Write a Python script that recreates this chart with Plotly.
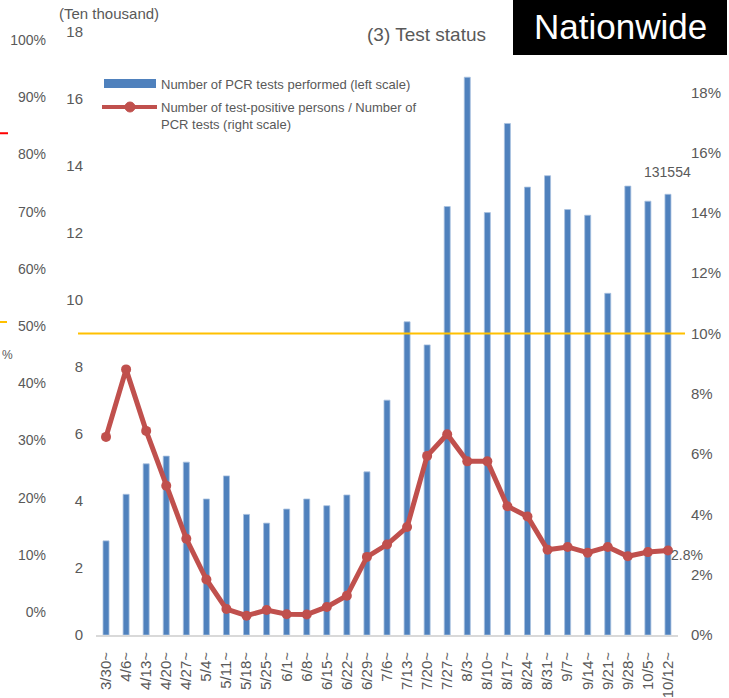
import plotly.graph_objects as go

# ---------------- data ----------------
weeks = ["3/30~", "4/6~", "4/13~", "4/20~", "4/27~", "5/4~", "5/11~", "5/18~", "5/25~",
         "6/1~", "6/8~", "6/15~", "6/22~", "6/29~", "7/6~", "7/13~", "7/20~", "7/27~",
         "8/3~", "8/10~", "8/17~", "8/24~", "8/31~", "9/7~", "9/14~", "9/21~", "9/28~",
         "10/5~", "10/12~"]
# number of PCR tests performed (ten thousand)
tests = [2.81, 4.20, 5.11, 5.34, 5.16, 4.06, 4.75, 3.60, 3.34, 3.76, 4.06, 3.86, 4.18,
         4.87, 7.01, 9.35, 8.66, 12.79, 16.65, 12.61, 15.27, 13.37, 13.71, 12.70, 12.53,
         10.20, 13.40, 12.95, 13.1554]
# positive persons / PCR tests (%)
rate = [6.57, 8.81, 6.77, 4.95, 3.19, 1.84, 0.86, 0.64, 0.83, 0.69, 0.68, 0.93, 1.30,
        2.59, 3.00, 3.58, 5.94, 6.66, 5.76, 5.76, 4.27, 3.93, 2.83, 2.92, 2.73, 2.92,
        2.61, 2.75, 2.80]
left_ticks = [0, 2, 4, 6, 8, 10, 12, 14, 16, 18]
right_ticks = [0, 2, 4, 6, 8, 10, 12, 14, 16, 18]
far_left_ticks = [0, 10, 20, 30, 40, 50, 60, 70, 80, 90, 100]
threshold = 10  # % reference line

BLUE = "#4F81BD"
RED = "#C0504D"
GRAY = "#595959"
FONT = "Liberation Sans, Arial, sans-serif"

fig = go.Figure()
fig.add_trace(go.Bar(
    x=weeks, y=tests, width=0.3, yaxis="y",
    marker=dict(color=BLUE, line=dict(color="#A9C1DF", width=0.8)),
    showlegend=False, name="Number of PCR tests performed (left scale)"))
fig.add_trace(go.Scatter(
    x=weeks, y=rate, yaxis="y2", mode="lines+markers",
    line=dict(color=RED, width=5), marker=dict(color=RED, size=10),
    showlegend=False, name="Number of test-positive persons / Number of PCR tests (right scale)"))

L, R, T, B, W, H = 50, 51, 32, 63, 729, 698
PW = W - L - R
PH = H - T - B


def px(x):
    return (x - L) / PW


def py(y):
    return (H - B - y) / PH


tickfont = dict(family=FONT, size=15, color=GRAY)

fig.update_layout(
    width=W, height=H,
    margin=dict(l=L, r=R, t=T, b=B, autoexpand=False),
    paper_bgcolor="white", plot_bgcolor="white",
    font=dict(family=FONT, color=GRAY),
    xaxis=dict(domain=[px(96), 1], range=[-0.5, len(weeks) - 0.5], type="category",
               tickangle=-90, tickfont=tickfont, showgrid=False, ticks="",
               showline=True, linecolor="#D9D9D9", linewidth=2, ticklabelstandoff=9,
               automargin=False),
    yaxis=dict(range=[0, 18], tickvals=left_ticks, showgrid=False, zeroline=False,
               tickfont=tickfont, ticks="", ticklabelstandoff=12, automargin=False),
    yaxis2=dict(range=[0, 20], tickvals=right_ticks,
                ticktext=[f"{v}%" for v in right_ticks], overlaying="y", side="right",
                anchor="x", showgrid=False, zeroline=False, tickfont=tickfont, ticks="",
                ticklabelstandoff=12, automargin=False),
    yaxis3=dict(range=[-(635 - 612) / 5.72, -(635 - 612) / 5.72 + PH / 5.72],
                tickvals=far_left_ticks, ticktext=[f"{v}%" for v in far_left_ticks],
                overlaying="y", side="left", anchor="free", position=0,
                showgrid=False, zeroline=False, ticks="", ticklabelstandoff=4,
                automargin=False,
                tickfont=dict(family=FONT, size=14, color=GRAY)),
    bargap=0.7,
)

shapes = [
    # 10% reference line
    dict(type="line", xref="paper", yref="y2", x0=px(78), x1=px(685), y0=threshold,
         y1=threshold, line=dict(color="#FFC000", width=2), layer="above"),
    # legend symbols
    dict(type="rect", xref="paper", yref="paper", x0=px(104), x1=px(156), y0=py(88),
         y1=py(79), fillcolor=BLUE, line=dict(width=0)),
    dict(type="line", xref="paper", yref="paper", x0=px(102), x1=px(157), y0=py(107),
         y1=py(107), line=dict(color=RED, width=4)),
    dict(type="circle", xref="paper", yref="paper", xsizemode="pixel", ysizemode="pixel",
         xanchor=px(130), yanchor=py(107), x0=-5, x1=5, y0=-5, y1=5,
         fillcolor=RED, line=dict(color=RED, width=1)),
    # Nationwide box
    dict(type="rect", xref="paper", yref="paper", x0=px(513), x1=px(727), y0=py(55),
         y1=py(0), fillcolor="black", line=dict(width=0), layer="above"),
    # stray markers from neighbouring chart
    dict(type="line", xref="paper", yref="y3", x0=px(0), x1=px(8), y0=83.7, y1=83.7,
         line=dict(color="#FF0000", width=2)),
    dict(type="line", xref="paper", yref="y3", x0=px(0), x1=px(7), y0=50.7, y1=50.7,
         line=dict(color="#FFC000", width=2)),
]
fig.update_layout(shapes=shapes)

ann = [
    dict(text="(Ten thousand)", xref="paper", yref="paper", x=px(57), y=py(14),
         xanchor="left", yanchor="middle", showarrow=False,
         font=dict(family=FONT, size=15, color=GRAY)),
    dict(text="(3) Test status", xref="paper", yref="paper", x=px(426), y=py(35),
         xanchor="center", yanchor="middle", showarrow=False,
         font=dict(family=FONT, size=19, color=GRAY)),
    dict(text="Nationwide", xref="paper", yref="paper", x=px(620), y=py(27),
         xanchor="center", yanchor="middle", showarrow=False,
         font=dict(family=FONT, size=35, color="white")),
    dict(text="Number of PCR tests performed (left scale)", xref="paper", yref="paper",
         x=px(159), y=py(84), xanchor="left", yanchor="middle", showarrow=False,
         font=dict(family=FONT, size=13, color=GRAY)),
    dict(text="Number of test-positive persons / Number of<br>PCR tests (right scale)",
         xref="paper", yref="paper", x=px(159), y=py(98), xanchor="left", yanchor="top",
         align="left", showarrow=False, font=dict(family=FONT, size=13, color=GRAY)),
    dict(text=f"{int(round(tests[-1] * 10000))}", xref="x", yref="y", x=weeks[-1],
         y=tests[-1], yshift=22, xanchor="center", yanchor="middle", showarrow=False,
         font=dict(family=FONT, size=14, color=GRAY)),
    dict(text=f"{rate[-1]:.1f}%", xref="x", yref="y2", x=weeks[-1], y=rate[-1],
         xshift=1, yshift=-4, xanchor="left", yanchor="middle", showarrow=False,
         font=dict(family=FONT, size=14, color=GRAY)),
    dict(text="%", xref="paper", yref="y3", x=px(0), y=44.9, xanchor="left",
         yanchor="middle", showarrow=False, font=dict(family=FONT, size=12, color=GRAY)),
]
fig.update_layout(annotations=ann)

# remove the default 8px page margin so the figure sits at the window's corner
fig.write_html("out.html",
               config={"displayModeBar": False},
               post_script="document.body.style.margin='0';document.body.style.padding='0';")
